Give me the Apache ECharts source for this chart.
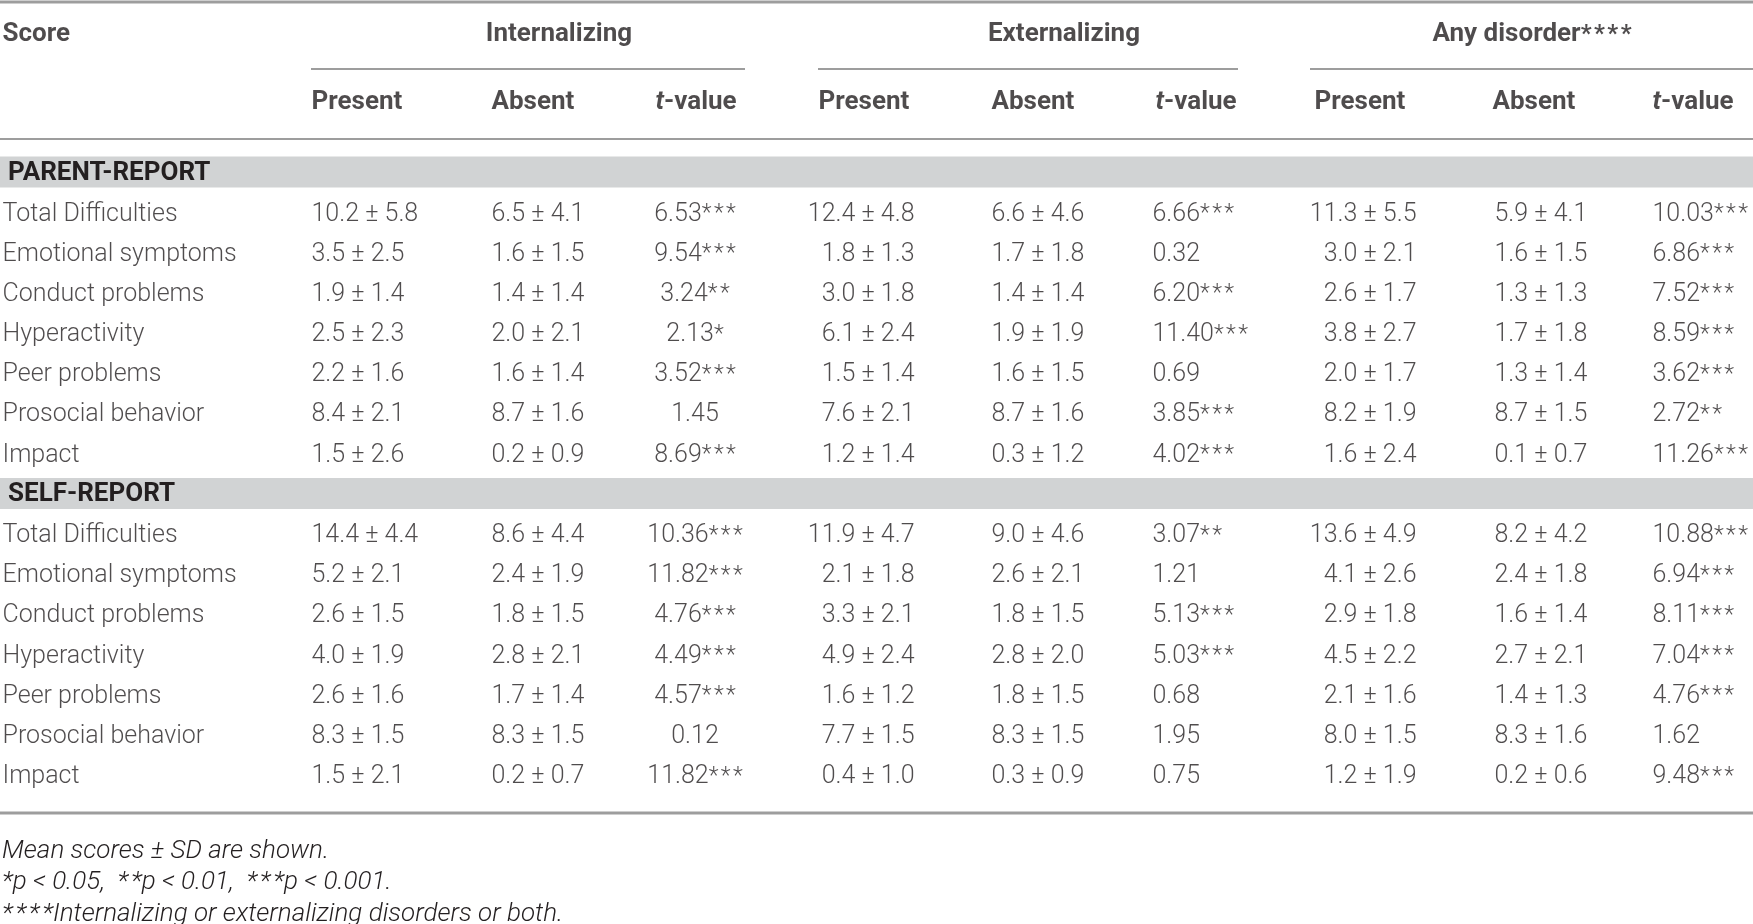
<!DOCTYPE html>
<html>
<head>
<meta charset="utf-8">
<script src="https://cdn.jsdelivr.net/npm/echarts@6/dist/echarts.min.js"></script>
<style>
  html, body { margin: 0; padding: 0; background: #fff; }
  #main { width: 1753px; height: 924px; }
</style>
</head>
<body>
<div id="main"></div>
<script>
// row names and headings
const rowLabels = ['Total Difficulties', 'Emotional symptoms', 'Conduct problems', 'Hyperactivity', 'Peer problems', 'Prosocial behavior', 'Impact']
const sections = ['PARENT-REPORT', 'SELF-REPORT']
const groups = ['Internalizing', 'Externalizing', 'Any disorder****']
const subCols = ['Present', 'Absent', 't-value']
const footnotes = ['Mean scores \u00b1 SD are shown.', '*p < 0.05,  **p < 0.01,  ***p < 0.001.', '****Internalizing or externalizing disorders or both.']

// PARENT-REPORT: [mean, sd]
const parentIntPresent = [[10.2, 5.8], [3.5, 2.5], [1.9, 1.4], [2.5, 2.3], [2.2, 1.6], [8.4, 2.1], [1.5, 2.6]]
const parentIntAbsent = [[6.5, 4.1], [1.6, 1.5], [1.4, 1.4], [2.0, 2.1], [1.6, 1.4], [8.7, 1.6], [0.2, 0.9]]
const parentIntT = [6.53, 9.54, 3.24, 2.13, 3.52, 1.45, 8.69]
const parentIntSig = [3, 3, 2, 1, 3, 0, 3]
const parentExtPresent = [[12.4, 4.8], [1.8, 1.3], [3.0, 1.8], [6.1, 2.4], [1.5, 1.4], [7.6, 2.1], [1.2, 1.4]]
const parentExtAbsent = [[6.6, 4.6], [1.7, 1.8], [1.4, 1.4], [1.9, 1.9], [1.6, 1.5], [8.7, 1.6], [0.3, 1.2]]
const parentExtT = [6.66, 0.32, 6.20, 11.40, 0.69, 3.85, 4.02]
const parentExtSig = [3, 0, 3, 3, 0, 3, 3]
const parentAnyPresent = [[11.3, 5.5], [3.0, 2.1], [2.6, 1.7], [3.8, 2.7], [2.0, 1.7], [8.2, 1.9], [1.6, 2.4]]
const parentAnyAbsent = [[5.9, 4.1], [1.6, 1.5], [1.3, 1.3], [1.7, 1.8], [1.3, 1.4], [8.7, 1.5], [0.1, 0.7]]
const parentAnyT = [10.03, 6.86, 7.52, 8.59, 3.62, 2.72, 11.26]
const parentAnySig = [3, 3, 3, 3, 3, 2, 3]

// SELF-REPORT: [mean, sd]
const selfIntPresent = [[14.4, 4.4], [5.2, 2.1], [2.6, 1.5], [4.0, 1.9], [2.6, 1.6], [8.3, 1.5], [1.5, 2.1]]
const selfIntAbsent = [[8.6, 4.4], [2.4, 1.9], [1.8, 1.5], [2.8, 2.1], [1.7, 1.4], [8.3, 1.5], [0.2, 0.7]]
const selfIntT = [10.36, 11.82, 4.76, 4.49, 4.57, 0.12, 11.82]
const selfIntSig = [3, 3, 3, 3, 3, 0, 3]
const selfExtPresent = [[11.9, 4.7], [2.1, 1.8], [3.3, 2.1], [4.9, 2.4], [1.6, 1.2], [7.7, 1.5], [0.4, 1.0]]
const selfExtAbsent = [[9.0, 4.6], [2.6, 2.1], [1.8, 1.5], [2.8, 2.0], [1.8, 1.5], [8.3, 1.5], [0.3, 0.9]]
const selfExtT = [3.07, 1.21, 5.13, 5.03, 0.68, 1.95, 0.75]
const selfExtSig = [2, 0, 3, 3, 0, 0, 0]
const selfAnyPresent = [[13.6, 4.9], [4.1, 2.6], [2.9, 1.8], [4.5, 2.2], [2.1, 1.6], [8.0, 1.5], [1.2, 1.9]]
const selfAnyAbsent = [[8.2, 4.2], [2.4, 1.8], [1.6, 1.4], [2.7, 2.1], [1.4, 1.3], [8.3, 1.6], [0.2, 0.6]]
const selfAnyT = [10.88, 6.94, 8.11, 7.04, 4.76, 1.62, 9.48]
const selfAnySig = [3, 3, 3, 3, 3, 0, 3]

const W = 1753
const FONT = 'Roboto, "Liberation Sans", sans-serif'
const INK = '#231f20'
const RULE = '#9d9d9d'

// slightly spaced asterisks like the typeset original
function stars(s) { return s.split('').join('\u200a') }

// row keys for the body axis
const rowKeys = []
sections.forEach(function (s, si) {
  rowKeys.push(s)
  rowLabels.forEach(function (r, ri) { rowKeys.push((si ? 'S' : 'P') + ri) })
})

// column layout: [x anchor, align]
const colLayout = {
  label: [2, 'left'],
  intPresent: [311, 'left'],
  intAbsent: [491, 'left'],
  intT: [695, 'center'],
  extPresent: [915, 'right'],
  extAbsent: [991, 'left'],
  extT: [1152, 'left'],
  anyPresent: [1417, 'right'],
  anyAbsent: [1494, 'left'],
  anyT: [1652, 'left']
}
const subHeadX = [[311, 491, 655], [818, 991, 1155], [1314, 1492, 1652]]
const groupX = [559, 1064, 1532]

function ms(p) { return p[0].toFixed(1) + ' \u00b1 ' + p[1].toFixed(1) }
function tv(t, n) { return n ? t.toFixed(2) + '{s|' + stars('*'.repeat(n)) + '}' : t.toFixed(2) }

const posMap = { left: 'right', right: 'left', center: 'inside' }

function textSeries(col, texts, prefixes) {
  const lay = colLayout[col]
  const data = []
  texts.forEach(function (list, li) {
    list.forEach(function (t, i) { data.push({ value: [lay[0], prefixes[li] + i], txt: t }) })
  })
  return {
    type: 'scatter',
    xAxisIndex: 0,
    yAxisIndex: 0,
    symbolSize: 1,
    silent: true,
    itemStyle: { color: 'rgba(0,0,0,0)' },
    data: data,
    label: {
      show: true,
      position: posMap[lay[1]],
      distance: 0,
      offset: [0, 2],
      fontFamily: FONT,
      fontWeight: 300,
      fontSize: 25,
      color: INK,
      formatter: function (p) { return p.data.txt },
      rich: { s: { fontFamily: FONT, fontWeight: 300, fontSize: 23, color: INK } }
    }
  }
}

const series = [
  // gray section bands
  {
    type: 'bar',
    xAxisIndex: 0,
    yAxisIndex: 0,
    silent: true,
    barWidth: 31,
    itemStyle: { color: '#d1d3d4' },
    data: rowKeys.map(function (k) { return sections.indexOf(k) >= 0 ? W : '-' }),
    label: {
      show: true,
      position: 'insideLeft',
      distance: 8,
      offset: [0, 1],
      fontFamily: FONT,
      fontWeight: 'bold',
      fontSize: 26,
      color: INK,
      formatter: function (p) { return p.name }
    }
  },
  textSeries('label', [rowLabels, rowLabels], ['P', 'S']),
  textSeries('intPresent', [parentIntPresent.map(ms), selfIntPresent.map(ms)], ['P', 'S']),
  textSeries('intAbsent', [parentIntAbsent.map(ms), selfIntAbsent.map(ms)], ['P', 'S']),
  textSeries('intT', [parentIntT.map(function (t, i) { return tv(t, parentIntSig[i]) }), selfIntT.map(function (t, i) { return tv(t, selfIntSig[i]) })], ['P', 'S']),
  textSeries('extPresent', [parentExtPresent.map(ms), selfExtPresent.map(ms)], ['P', 'S']),
  textSeries('extAbsent', [parentExtAbsent.map(ms), selfExtAbsent.map(ms)], ['P', 'S']),
  textSeries('extT', [parentExtT.map(function (t, i) { return tv(t, parentExtSig[i]) }), selfExtT.map(function (t, i) { return tv(t, selfExtSig[i]) })], ['P', 'S']),
  textSeries('anyPresent', [parentAnyPresent.map(ms), selfAnyPresent.map(ms)], ['P', 'S']),
  textSeries('anyAbsent', [parentAnyAbsent.map(ms), selfAnyAbsent.map(ms)], ['P', 'S']),
  textSeries('anyT', [parentAnyT.map(function (t, i) { return tv(t, parentAnySig[i]) }), selfAnyT.map(function (t, i) { return tv(t, selfAnySig[i]) })], ['P', 'S'])
]

// header cells on their own grid
const headData = [{ value: [2, 'g'], txt: 'Score', pos: 'right' }]
groups.forEach(function (g, gi) {
  headData.push({ value: [groupX[gi], 'g'], txt: g.replace('****', '{s|' + stars('****') + '}'), pos: 'inside' })
  subCols.forEach(function (c, ci) {
    const t = c === 't-value' ? '{i|t}-value' : c
    headData.push({ value: [subHeadX[gi][ci], 's'], txt: t, pos: 'right' })
  })
})
series.push({
  type: 'scatter',
  xAxisIndex: 1,
  yAxisIndex: 1,
  symbolSize: 1,
  silent: true,
  itemStyle: { color: 'rgba(0,0,0,0)' },
  data: headData.map(function (d) {
    return { value: d.value, txt: d.txt, label: { position: d.pos } }
  }),
  label: {
    show: true,
    distance: 0,
    offset: [0, 1],
    fontFamily: FONT,
    fontWeight: 'bold',
    fontSize: 26,
    color: INK,
    formatter: function (p) { return p.data.txt },
    rich: {
      i: { fontFamily: FONT, fontWeight: 'bold', fontStyle: 'italic', fontSize: 26, color: INK },
      s: { fontFamily: FONT, fontWeight: 'bold', fontSize: 24, color: INK }
    }
  }
})

function hline(y, x1, x2, w) {
  return { type: 'line', silent: true, shape: { x1: x1, y1: y, x2: x2, y2: y }, style: { stroke: RULE, lineWidth: w } }
}
const graphics = [
  hline(2, 0, W, 3),
  hline(69, 311, 745, 2),
  hline(69, 818, 1238, 2),
  hline(69, 1310, W, 2),
  hline(139, 0, W, 2),
  hline(813, 0, W, 3)
]
footnotes.forEach(function (f, i) {
  graphics.push({
    type: 'text',
    silent: true,
    left: 2,
    top: 838 + i * 31.5,
    style: {
      text: f.replace(/\*+/g, stars),
      fontFamily: FONT,
      fontWeight: 300,
      fontStyle: 'italic',
      fontSize: 26,
      fill: INK
    }
  })
})

const chart = echarts.init(document.getElementById('main'))
chart.setOption({
  animation: false,
  backgroundColor: '#fff',
  grid: [
    { left: 0, width: W, top: 152, height: 643 },
    { left: 0, width: W, top: -3, height: 138 }
  ],
  xAxis: [
    { type: 'value', gridIndex: 0, min: 0, max: W, show: false },
    { type: 'value', gridIndex: 1, min: 0, max: W, show: false }
  ],
  yAxis: [
    { type: 'category', gridIndex: 0, inverse: true, data: rowKeys, show: false },
    { type: 'category', gridIndex: 1, inverse: true, data: ['g', 's'], show: false }
  ],
  graphic: graphics,
  series: series
})
</script>
</body>
</html>
